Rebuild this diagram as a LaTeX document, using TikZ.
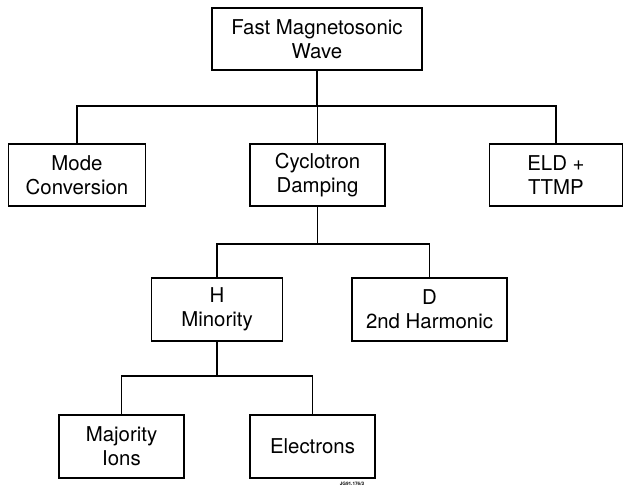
\documentclass[tikz,border=0pt]{standalone}
\usepackage{fontspec}
\setmainfont{TeX Gyre Heros}
\tikzset{
  box/.style={draw, line width=1.4pt, align=center, inner sep=0pt,
    minimum height=47pt, font=\fontsize{15.3}{18}\selectfont},
  link/.style={line width=1.4pt}
}
\begin{document}
\begin{tikzpicture}[x=0.75pt, y=-0.75pt]
  \useasboundingbox (0,0) rectangle (624,489);
  % boxes
  \node[box, minimum width=157.5pt] (wave) at (317,39) {Fast Magnetosonic\\Wave};
  \node[box, minimum width=102.75pt] (mode) at (77,175) {Mode\\Conversion};
  \node[box, minimum width=101.25pt] (cyc) at (317.5,175) {Cyclotron\\Damping};
  \node[box, minimum width=99.75pt] (eld) at (556,175) {ELD +\\TTMP};
  \node[box, minimum width=98.25pt] (hmin) at (217,309.5) {H\\Minority};
  \node[box, minimum width=116.25pt] (dsec) at (429.5,309.5) {D\\2nd Harmonic};
  \node[box, minimum width=93.75pt] (maj) at (121.5,446.5) {Majority\\Ions};
  \node[box, minimum width=93.75pt] (elec) at (312.5,446.5) {Electrons};
  % junctions
  \coordinate (j1) at (317,106);
  \coordinate (j2) at (317.5,244);
  \coordinate (j3) at (217,376);
  % connectors
  \draw[link] (wave.south) -- (j1);
  \foreach \c in {mode, cyc, eld}
    \draw[link] (j1) -| (\c.north);
  \draw[link] (cyc.south) -- (j2);
  \foreach \c in {hmin, dsec}
    \draw[link] (j2) -| (\c.north);
  \draw[link] (hmin.south) -- (j3);
  \foreach \c in {maj, elec}
    \draw[link] (j3) -| (\c.north);
  \node[font=\fontsize{3.5}{4}\selectfont\bfseries] (code) at (352,484) {JG91.176/3};
\end{tikzpicture}
\end{document}
